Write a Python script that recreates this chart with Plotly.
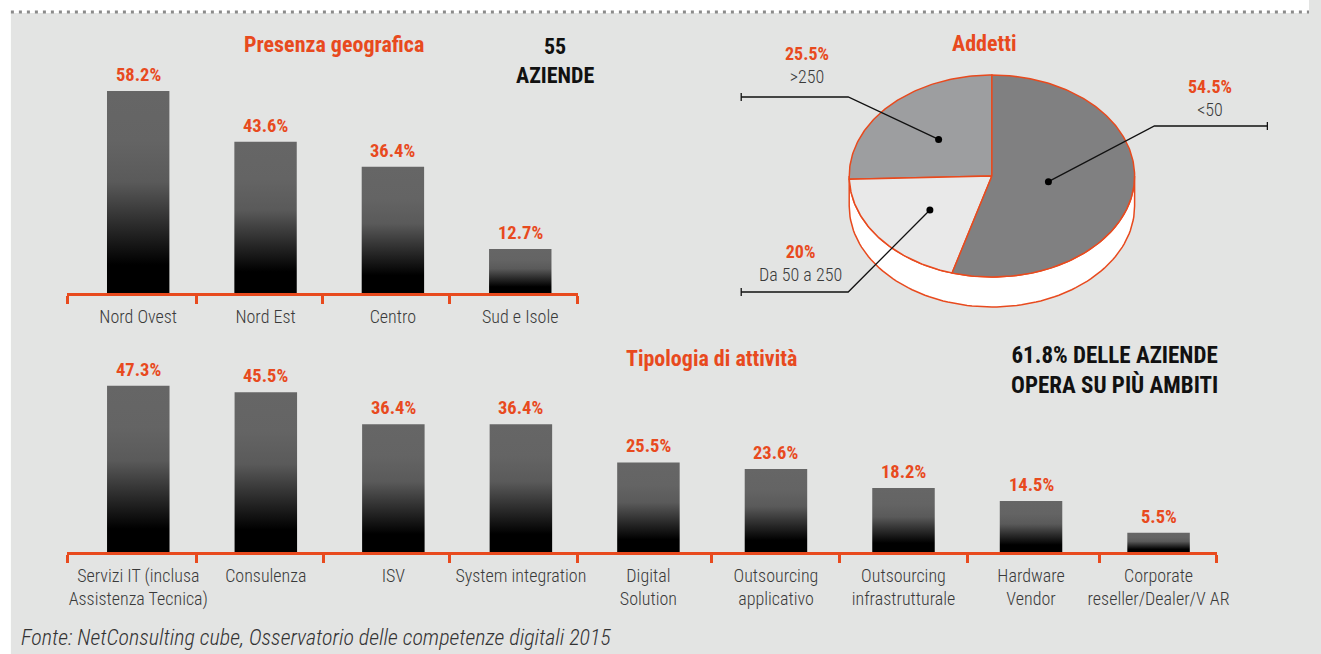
import math
import plotly.graph_objects as go

W, H = 1321, 654
ORANGE = '#e84a1e'
BG = '#e3e4e3'
TXT = '#3a3a3a'
FONT = 'Roboto Condensed, Roboto, sans-serif'

# data
geo_labels = ['Nord Ovest', 'Nord Est', 'Centro', 'Sud e Isole']
geo_values = [58.2, 43.6, 36.4, 12.7]

act_labels = ['Servizi IT (inclusa<br>Assistenza Tecnica)', 'Consulenza', 'ISV',
              'System integration', 'Digital<br>Solution', 'Outsourcing<br>applicativo',
              'Outsourcing<br>infrastrutturale', 'Hardware<br>Vendor',
              'Corporate<br>reseller/Dealer/V AR']
act_values = [47.3, 45.5, 36.4, 36.4, 25.5, 23.6, 18.2, 14.5, 5.5]

pie_labels = ['>250', 'Da 50 a 250', '<50']
pie_values = [25.5, 20, 54.5]
pie_colors = ['#9d9ea0', '#e9e9e9', '#808081']

# separator ticks along the baselines (in category units, as drawn in the original)
geo_seps = [-0.556, 0.455, 1.451, 2.447, 3.451]
act_seps = [-0.556, 0.455, 1.449, 2.444, 3.445, 4.494, 5.497, 6.499, 7.54, 8.457]

BW = 0.245
GRAD = [[0, '#000000'], [0.14, '#000000'], [0.55, '#5a5a5a'], [0.75, '#646464'], [1, '#666666']]

fig = go.Figure()


def add_bars(values, xa, ya):
    for i, v in enumerate(values):
        fig.add_trace(go.Scatter(
            x=[i - BW, i - BW, i + BW, i + BW, i - BW], y=[0, v, v, 0, 0],
            fill='toself', mode='lines', line=dict(width=0),
            fillgradient=dict(type='vertical', colorscale=GRAD),
            hoverinfo='skip', showlegend=False, xaxis=xa, yaxis=ya))
        fig.add_annotation(x=i, y=v, xref=xa, yref=ya, text=f'{v:g}%', showarrow=False,
                           yanchor='bottom', yshift=3,
                           font=dict(family=FONT, size=18.5, color=ORANGE, weight='bold'))


add_bars(geo_values, 'x', 'y')
add_bars(act_values, 'x2', 'y2')

# pie (drawn as an ellipse in a pixel-mapped axis)
CX, CY, RX, RY, DEPTH = 1001, 176, 144, 101, 30


def ell(t, dy=0):
    r = math.radians(t)
    return CX + RX * math.cos(r), CY - RY * math.sin(r) + dy


side = [ell(180 + k * 2) for k in range(91)] + [ell(360 - k * 2, DEPTH) for k in range(91)]
fig.add_trace(go.Scatter(x=[p[0] for p in side] + [side[0][0]], y=[p[1] for p in side] + [side[0][1]],
                         fill='toself', fillcolor='white', mode='lines',
                         line=dict(color=ORANGE, width=1.5), hoverinfo='skip',
                         showlegend=False, xaxis='x3', yaxis='y3'))

total = sum(pie_values)
start = 90.0
mids = []
for lab, v, col in zip(pie_labels, pie_values, pie_colors):
    span = v / total * 360
    n = max(int(span), 2)
    pts = [(CX, CY)] + [ell(start + span * k / n) for k in range(n + 1)] + [(CX, CY)]
    fig.add_trace(go.Scatter(x=[p[0] for p in pts], y=[p[1] for p in pts],
                             fill='toself', fillcolor=col, mode='lines',
                             line=dict(color=ORANGE, width=1.5), hoverinfo='skip',
                             showlegend=False, xaxis='x3', yaxis='y3'))
    mids.append(start + span / 2)
    start += span

# leader lines: dot radius factor, elbow point, end x, label position
leaders = [
    dict(r=0.52, elbow=(856, 97), end=748, lab=(814, 65)),
    dict(r=0.55, elbow=(856, 292), end=748, lab=(808, 263)),
    dict(r=0.40, elbow=(1165, 126), end=1279, lab=(1221, 98)),
]
for lab, v, mid, ld in zip(pie_labels, pie_values, mids, leaders):
    rr = math.radians(mid)
    dx, dy = CX + ld['r'] * RX * math.cos(rr), CY - ld['r'] * RY * math.sin(rr)
    ex, ey = ld['elbow']
    fig.add_trace(go.Scatter(x=[dx, ex, ld['end'], None, ld['end'], ld['end']],
                             y=[dy, ey, ey, None, ey - 4, ey + 4], mode='lines',
                             line=dict(color='#111111', width=1.3), hoverinfo='skip',
                             showlegend=False, xaxis='x3', yaxis='y3'))
    fig.add_trace(go.Scatter(x=[dx], y=[dy], mode='markers', marker=dict(color='#000', size=7),
                             hoverinfo='skip', showlegend=False, xaxis='x3', yaxis='y3'))
    fig.add_annotation(x=ld['lab'][0], y=ld['lab'][1], xref='x3', yref='y3', showarrow=False,
                       text=f'<b><span style="color:{ORANGE}">{v:g}%</span></b><br>{lab}',
                       font=dict(family=FONT, size=18, color=TXT, weight=300))

axis_common = dict(showline=True, linecolor=ORANGE, linewidth=3, showgrid=False, zeroline=False,
                   ticks='outside', ticklen=5, tickcolor='rgba(0,0,0,0)',
                   tickfont=dict(family=FONT, size=18, color=TXT, weight=300))
minor_common = dict(tickmode='array', ticks='outside', ticklen=8, tickwidth=2.5, tickcolor=ORANGE)

fig.update_layout(
    width=W, height=H, margin=dict(l=0, r=0, t=0, b=0),
    paper_bgcolor=BG, plot_bgcolor='rgba(0,0,0,0)', showlegend=False,
    xaxis=dict(domain=[68 / W, 583 / W], range=[geo_seps[0], geo_seps[-1]], anchor='y',
               tickmode='array', tickvals=list(range(len(geo_labels))), ticktext=geo_labels,
               minor=dict(tickvals=geo_seps, **minor_common), **axis_common),
    yaxis=dict(domain=[(H - 293) / H, (H - 71) / H], range=[0, 64], visible=False),
    xaxis2=dict(domain=[68 / W, 1228 / W], range=[act_seps[0], act_seps[-1]], anchor='y2',
                tickmode='array', tickvals=list(range(len(act_labels))), ticktext=act_labels,
                minor=dict(tickvals=act_seps, **minor_common), **axis_common),
    yaxis2=dict(domain=[(H - 552) / H, (H - 376) / H], range=[0, 50.1], visible=False),
    xaxis3=dict(domain=[0, 1], range=[0, W], visible=False, anchor='y3'),
    yaxis3=dict(domain=[0, 1], range=[H, 0], visible=False, anchor='x3'),
)

# white page margins around the grey panel, and the dotted top rule
fig.add_shape(type='rect', xref='paper', yref='paper', x0=0, x1=11 / W, y0=0, y1=1,
              fillcolor='white', line=dict(width=0), layer='below')
fig.add_shape(type='rect', xref='paper', yref='paper', x0=0, x1=1, y0=(H - 13) / H, y1=1,
              fillcolor='white', line=dict(width=0), layer='below')
fig.add_shape(type='line', xref='paper', yref='paper', x0=11 / W, x1=1, y0=(H - 12) / H, y1=(H - 12) / H,
              line=dict(color='#8a8a8a', width=3, dash='3px,5px'))

titles = [
    ('Presenza geografica', 337, 44, ORANGE, 22),
    ('55<br>AZIENDE', 560, 61, '#111111', 22),
    ('Addetti', 994, 43, ORANGE, 22),
    ('Tipologia di attività', 718, 358, ORANGE, 22),
    ('61.8% DELLE AZIENDE<br>OPERA SU PIÙ AMBITI', 1125, 370, '#111111', 23),
]
for t, x, y, c, s in titles:
    fig.add_annotation(x=x, y=y, xref='x3', yref='y3', text=t, showarrow=False,
                       font=dict(family=FONT, size=s, color=c, weight='bold'))

fig.add_annotation(x=19, y=637, xref='x3', yref='y3', xanchor='left', showarrow=False,
                   text='<i>Fonte: NetConsulting cube, Osservatorio delle competenze digitali 2015</i>',
                   font=dict(family=FONT, size=22, color='#333333', weight=300))

fig.write_html('out.html', config={'displayModeBar': False},
               post_script="document.body.style.margin='0';"
                           "document.body.style.overflow='hidden';"
                           "document.body.style.background='" + BG + "';"
                           "document.documentElement.style.background='" + BG + "';"
                           "document.documentElement.style.overflow='hidden';")
